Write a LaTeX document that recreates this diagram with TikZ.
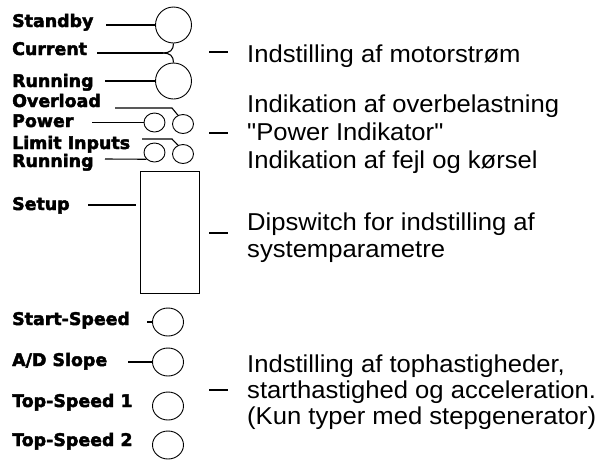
\documentclass[tikz,border=0pt]{standalone}
\usepackage{fontspec}
\usetikzlibrary{shapes.geometric,calc}
\newfontfamily\lab{DejaVu Sans Bold}[FakeBold=2.5]
\newfontfamily\rt{Liberation Sans}[FakeStretch=1.05]
\begin{document}
\begin{tikzpicture}[x=1pt,y=-1pt,
  lbl/.style={anchor=base west, inner sep=0, font=\lab\fontsize{17.4}{17.4}\selectfont},
  rtx/.style={anchor=base west, inner sep=0, font=\rt\fontsize{24.4}{28}\selectfont},
  wire/.style={line width=1.1pt},
  tick/.style={line width=1.8pt},
  bigc/.style={draw, line width=0.9pt, circle, minimum size=36, inner sep=0},
  led/.style={draw, line width=0.9pt, ellipse, minimum width=21, minimum height=19, inner sep=0},
  pot/.style={draw, line width=0.9pt, ellipse, minimum width=31, minimum height=28, inner sep=0},
  dipbox/.style={draw, line width=0.9pt, rectangle, minimum width=59, minimum height=122, inner sep=0}]
\useasboundingbox[fill=white] (0,0) rectangle (600,464);

% components
\node[bigc] (c1) at (173.5,25) {};
\node[bigc] (c2) at (173.5,81) {};
\node[led] (l1) at (154.5,122.5) {};
\node[led] (l2) at (183,124) {};
\node[led] (l3) at (154.5,152.5) {};
\node[led] (l4) at (183,154) {};
\node[dipbox] (dip) at (169.5,232) {};
\node[pot] (p1) at (168,322) {};
\node[pot] (p2) at (168,362) {};
\node[pot] (p3) at (168,406) {};
\node[pot] (p4) at (168,445) {};

% left labels
\node[lbl] (tStandby) at (12,27) {Standby};
\node[lbl] (tCurrent) at (12,55) {Current};
\node[lbl] (tRun1) at (12,87) {Running};
\node[lbl] (tOver) at (12,107) {Overload};
\node[lbl] (tPower) at (12,127) {Power};
\node[lbl] (tLimit) at (12,149) {Limit Inputs};
\node[lbl] (tRun2) at (12,167) {Running};
\node[lbl] (tSetup) at (12,210) {Setup};
\node[lbl] (tStart) at (12,325) {Start-Speed};
\node[lbl] (tAD) at (12,366) {A/D Slope};
\node[lbl] (tTS1) at (12,407) {Top-Speed 1};
\node[lbl] (tTS2) at (12,446) {Top-Speed 2};

% wires
\coordinate (a1) at (106,25);
\draw[wire] (a1) -- (c1.west);
\coordinate (a2) at (97,53);
\coordinate (b2) at (163,53);
\draw[wire] (a2) -- (b2);
\draw[wire] (b2) .. controls (170,53) and (173.5,50) .. (c1.south);
\draw[wire] (b2) .. controls (170,53) and (173.5,56) .. (c2.north);
\coordinate (a1b) at (105,81);
\draw[wire] (a1b) -- (c2.west);
\coordinate (a3) at (115,108);
\draw[wire] (a3) -- (172,108) -- (l2.120);
\coordinate (a4) at (92,122.5);
\draw[wire] (a4) -- (l1.west);
\coordinate (a5) at (142,139);
\draw[wire] (a5) -- (172,139) -- (l4.120);
\coordinate (a6) at (105,159);
\draw[wire] (a6) -- (l3.220);
\coordinate (a7) at (88,205);
\draw[wire] (a7) -- ($(dip.west|-a7)+(-4,0)$);
\coordinate (a8) at (147,322);
\draw[wire] (a8) -- (p1.west);
\coordinate (a9) at (128,362);
\draw[wire] (a9) -- (p2.west);

% right side
\coordinate (d1) at (209,52);
\draw[tick] (d1) -- ++(19,0);
\node[rtx] (r1) at (247,62) {Indstilling af motorstrøm};
\coordinate (d2) at (209,133);
\draw[tick] (d2) -- ++(19,0);
\node[rtx] (r2a) at (247,112) {Indikation af overbelastning};
\node[rtx] (r2b) at (247,140) {"Power Indikator"};
\node[rtx] (r2c) at (247,168) {Indikation af fejl og kørsel};
\coordinate (d3) at (209,233);
\draw[tick] (d3) -- ++(19,0);
\node[rtx] (r3a) at (247,230) {Dipswitch for indstilling af};
\node[rtx] (r3b) at (247,257) {systemparametre};
\coordinate (d4) at (209,390);
\draw[tick] (d4) -- ++(19,0);
\node[rtx] (r4a) at (247,372) {Indstilling af tophastigheder,};
\node[rtx] (r4b) at (247,398) {starthastighed og acceleration.};
\node[rtx] (r4c) at (247,424) {(Kun typer med stepgenerator)};
\end{tikzpicture}
\end{document}
